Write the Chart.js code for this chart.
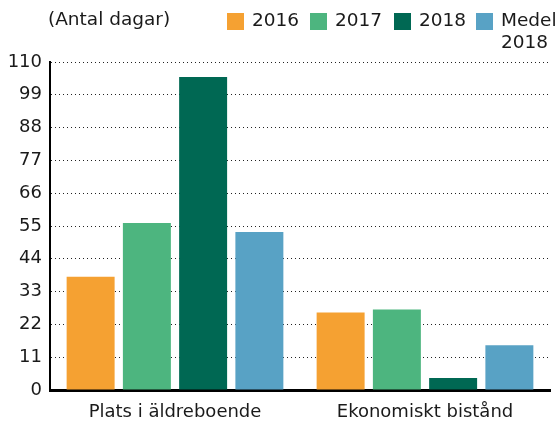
<!DOCTYPE html>
<html>
<head>
<meta charset="utf-8">
<script src="https://cdn.jsdelivr.net/npm/chart.js@4/dist/chart.umd.min.js"></script>
<style>
  html, body { margin: 0; padding: 0; background: #fff; }
  #wrap { position: relative; width: 558px; height: 421px; font-family: 'DejaVu Sans', Verdana, sans-serif; color: #1a1a1a; }
  #chart { position: absolute; left: 0; top: 0; }
  .title { position: absolute; left: 48px; top: 8px; font-size: 18.5px; }
  .leg { position: absolute; top: 9px; font-size: 18.5px; line-height: 22px; }
  .box { position: absolute; top: 13px; width: 17px; height: 17px; }
</style>
</head>
<body>
<div id="wrap">
  <canvas id="chart" width="558" height="421"></canvas>
  <div class="title">(Antal dagar)</div>
  <div id="legend"></div>
</div>
<script>
/* ─────────────────────────────────────────
   DATA
───────────────────────────────────────── */
const categories  = ['Plats i äldreboende', 'Ekonomiskt bistånd'];
const seriesNames = ['2016', '2017', '2018', 'Medel\n2018'];
const values2016  = [38, 26];
const values2017  = [56, 27];
const values2018  = [105, 4];
const valuesMedel = [53, 15];
const yTicks      = [0, 11, 22, 33, 44, 55, 66, 77, 88, 99, 110];

const COLORS = ['#F5A132', '#4DB57F', '#006853', '#58A2C5'];
const FONT = "'DejaVu Sans', Verdana, sans-serif";

/* ─────────────────────────────────────────
   LEGEND (html)
───────────────────────────────────────── */
const legendPos = [227, 310, 394, 476];
const legendEl = document.getElementById('legend');
seriesNames.forEach((name, i) => {
  const x = legendPos[i];
  legendEl.innerHTML += `
    <div class="box" style="left:${x}px;background:${COLORS[i]}"></div>
    <div class="leg" style="left:${x + 25}px">${name.replace('\n', '<br>')}</div>`;
});

/* ─────────────────────────────────────────
   CHART
───────────────────────────────────────── */
const allSeries = [values2016, values2017, values2018, valuesMedel];

new Chart(document.getElementById('chart'), {
  type: 'bar',
  data: {
    labels: categories,
    datasets: allSeries.map((vals, i) => ({
      label: seriesNames[i],
      data: vals,
      backgroundColor: COLORS[i],
      categoryPercentage: 0.9,
      barPercentage: 0.853,
    })),
  },
  options: {
    responsive: false,
    animation: false,
    layout: { padding: { top: 62, right: 8, left: 0, bottom: 0 } },
    plugins: { legend: { display: false }, tooltip: { enabled: false } },
    scales: {
      x: {
        grid: { display: false },
        border: { display: true, color: '#000', width: 3 },
        ticks: { color: '#1a1a1a', font: { family: FONT, size: 18 }, padding: 4 },
        afterFit: s => { s.height = 31; },
      },
      y: {
        min: 0, max: 110,
        afterBuildTicks: s => { s.ticks = yTicks.map(v => ({ value: v })); },
        grid: { color: '#222', lineWidth: 1, drawTicks: false },
        border: { display: true, color: '#000', width: 2, dash: [1, 3] },
        ticks: { color: '#1a1a1a', font: { family: FONT, size: 18 }, padding: 8 },
        afterFit: s => { s.width = 50; },
      },
    },
  },
});
</script>
</body>
</html>
